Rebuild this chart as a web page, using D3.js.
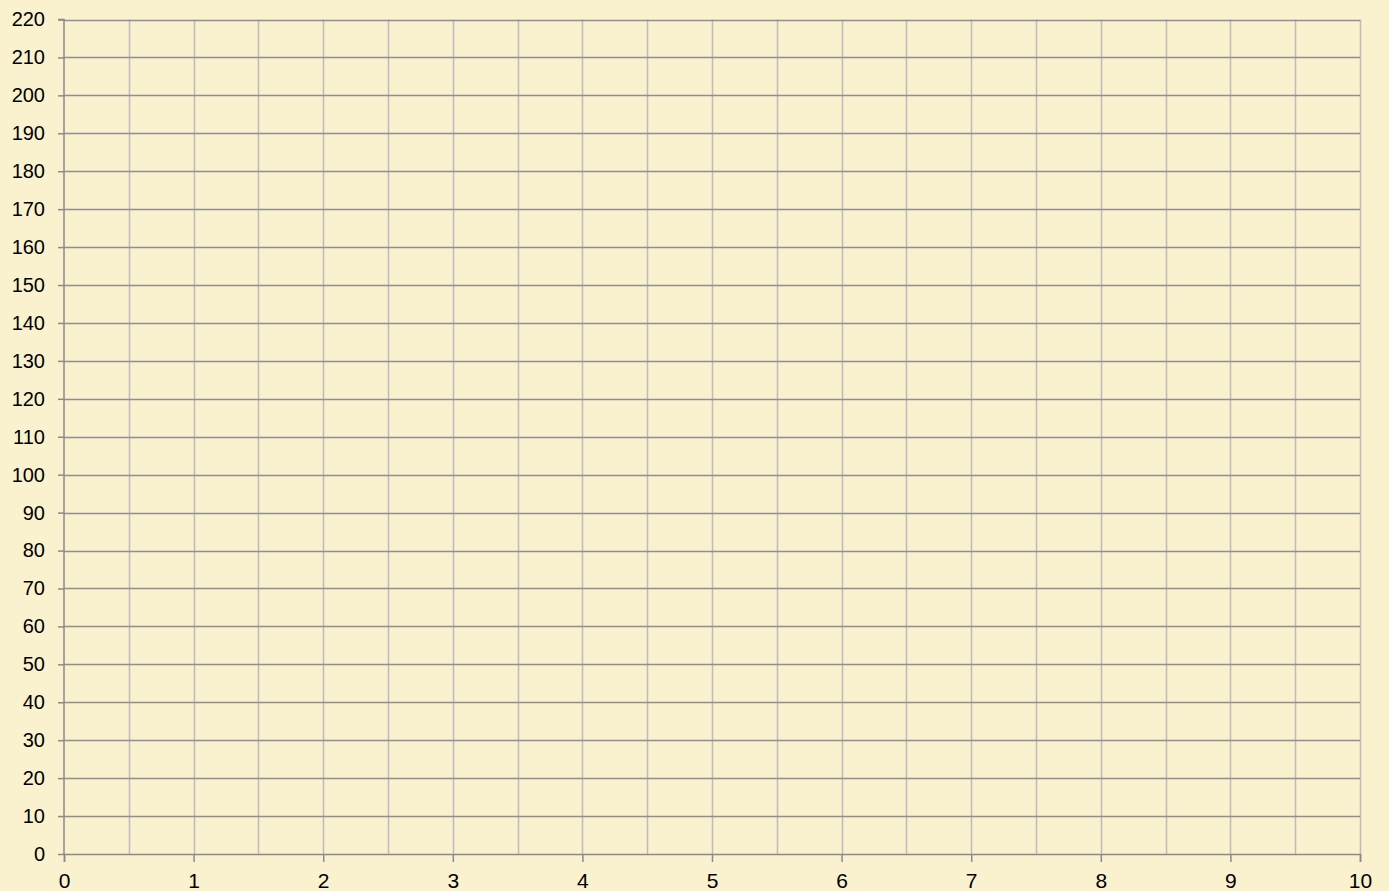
<!DOCTYPE html>
<html><head><meta charset="utf-8">
<script src="https://cdn.jsdelivr.net/npm/d3@7"></script>
<style>html,body{margin:0;padding:0;background:#FAF1CF;}</style>
</head><body>
<svg id="c" width="1389" height="891"></svg>
<script>
const xDomain = [0, 10];
const yDomain = [0, 220];
const xTickLabels = [0,1,2,3,4,5,6,7,8,9,10];
const xGridValues = [0.5,1,1.5,2,2.5,3,3.5,4,4.5,5,5.5,6,6.5,7,7.5,8,8.5,9,9.5,10];
const yTickLabels = [0,10,20,30,40,50,60,70,80,90,100,110,120,130,140,150,160,170,180,190,200,210,220];

const svg = d3.select('#c');
const m = {l:64, r:1389-1360, t:19.5, b:891-854};
const W = 1389, H = 891;
const x = d3.scaleLinear().domain(xDomain).range([m.l, W - m.r]);
const y = d3.scaleLinear().domain(yDomain).range([H - m.b, m.t]);

svg.append('rect').attr('width', W).attr('height', H).attr('fill', '#FAF1CF');

// vertical grid
svg.append('g').selectAll('line').data(xGridValues).join('line')
  .attr('x1', d => Math.round(x(d)) + 0.5).attr('x2', d => Math.round(x(d)) + 0.5)
  .attr('y1', y(220)).attr('y2', y(0))
  .attr('stroke', '#bdbdbd').attr('stroke-width', 1.5);
// horizontal grid
svg.append('g').selectAll('line').data(yTickLabels.slice(1)).join('line')
  .attr('x1', x(0)).attr('x2', x(10))
  .attr('y1', d => Math.round(y(d)) + 0.5).attr('y2', d => Math.round(y(d)) + 0.5)
  .attr('stroke', '#8f8f8f').attr('stroke-width', 1.5);

const font = "'Liberation Sans', Arial, sans-serif";
const yAxis = d3.axisLeft(y).tickValues(yTickLabels).tickSize(6).tickPadding(13).tickFormat(d3.format('d'));
const gy = svg.append('g').attr('transform', `translate(${x(0)},0)`).call(yAxis);
const xAxis = d3.axisBottom(x).tickValues(xTickLabels).tickSize(8).tickPadding(11).tickFormat(d3.format('d'));
const gx = svg.append('g').attr('transform', `translate(0,${y(0)})`).call(xAxis);
[gx, gy].forEach(g => {
  g.attr('font-family', null).attr('font-size', null);
  g.select('.domain').attr('stroke', '#8a8a8a').attr('stroke-width', 1.5);
  g.selectAll('.tick line').attr('stroke', '#8a8a8a').attr('stroke-width', 1.5);
  g.selectAll('text').attr('fill', '#000').style('font-family', font);
});
gy.selectAll('text').style('font-size', '20px');
gx.selectAll('text').style('font-size', '21px');
gy.select('.domain').attr('d', `M-6,${y(220)}H0V${y(0)}`);
</script>
</body></html>
